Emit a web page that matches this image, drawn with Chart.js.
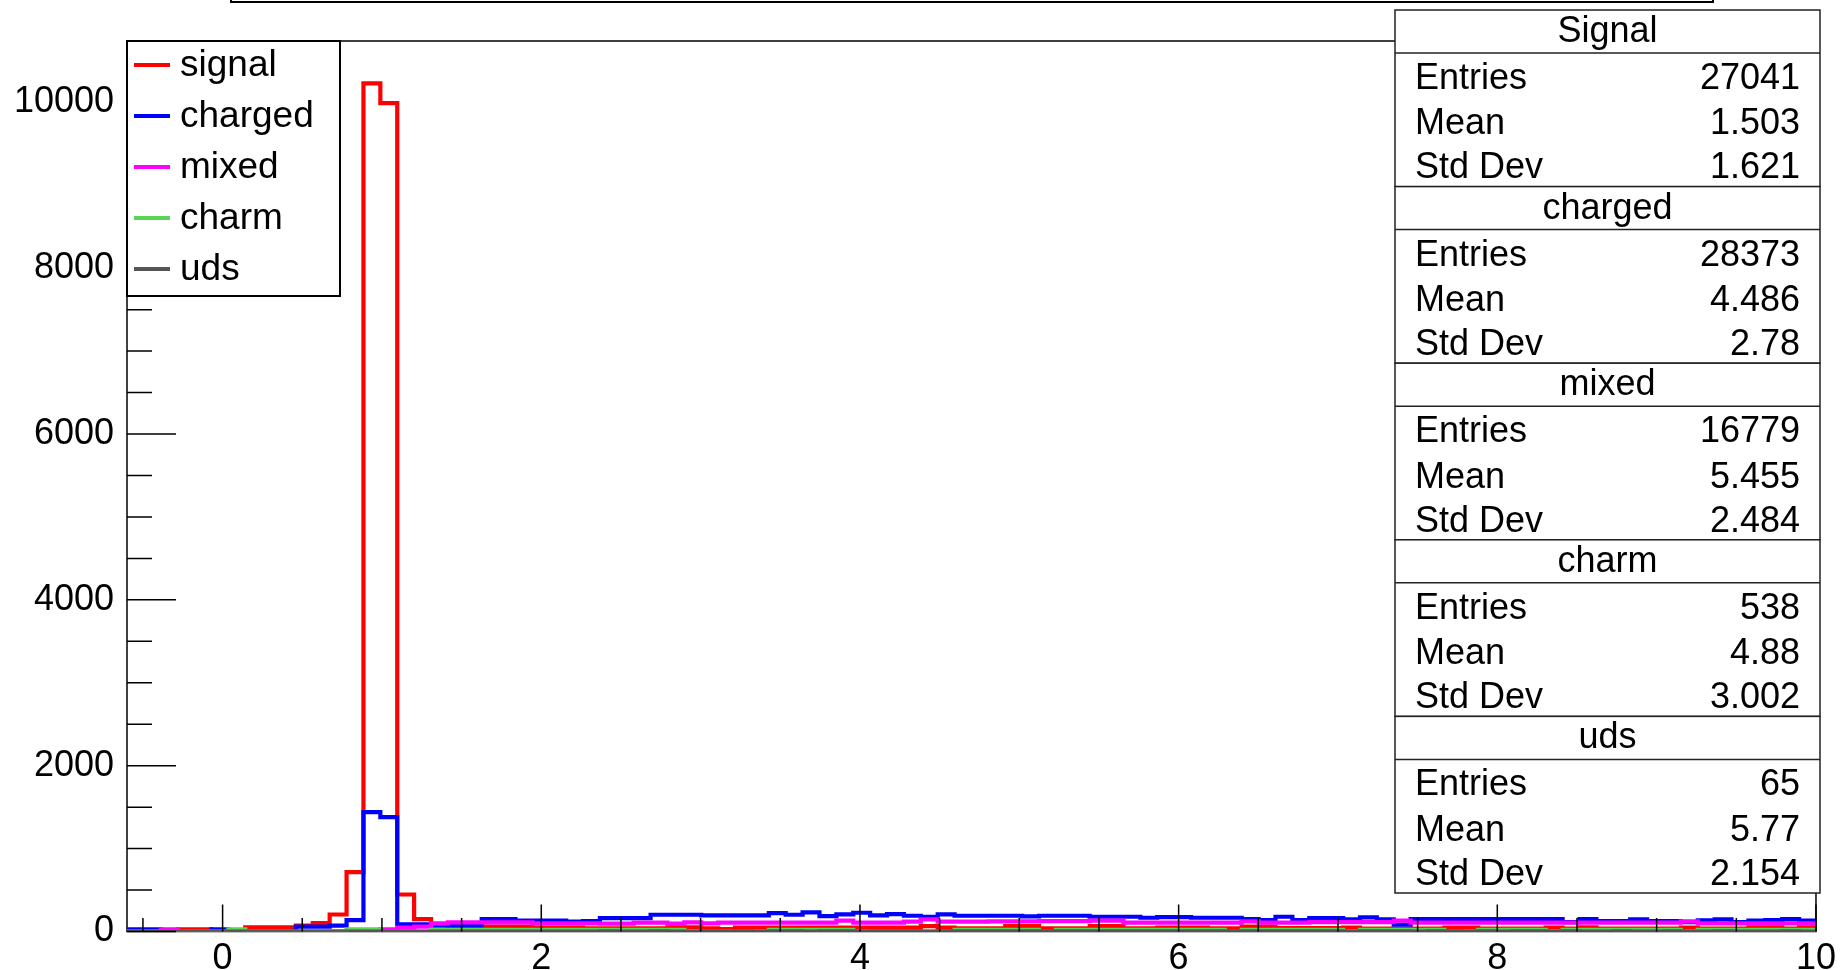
<!DOCTYPE html>
<html><head><meta charset="utf-8">
<script src="https://cdn.jsdelivr.net/npm/chart.js@4.4.1/dist/chart.umd.min.js"></script>
<style>html,body{margin:0;padding:0;background:#fff;overflow:hidden}canvas{display:block}</style>
</head><body>
<canvas id="c" width="1842" height="970" style="width:1842px;height:970px"></canvas>
<script>
const FONT = "'Liberation Sans', Arial, Helvetica, sans-serif";

// ---- histogram binning / axis ranges ----
const xMin = -0.6, xMax = 10, nBins = 100;
const yMin = 0, yMax = 10740;
const xTickStep = 2, xMinorStep = 0.5;
const yTickStep = 2000, yMinorStep = 500;

// ---- series ----
const seriesNames  = ['signal', 'charged', 'mixed', 'charm', 'uds'];
const seriesColors = ['#ff0000', '#0000ff', '#ff00ff', '#59d454', '#555555'];

const signal = [
  0, 0, 0, 25, 25, 0, 0, 50, 50, 50,
  72, 100, 205, 715, 10230, 9990, 446, 150, 30, 58,
  58, 58, 58, 58, 46, 46, 46, 38, 38, 38,
  38, 38, 50, 50, 38, 30, 46, 46, 46, 46,
  46, 46, 46, 46, 46, 46, 46, 66, 46, 38,
  38, 38, 66, 66, 38, 38, 38, 66, 66, 38,
  38, 46, 46, 46, 38, 38, 58, 58, 42, 42,
  42, 42, 46, 34, 34, 34, 34, 34, 46, 46,
  34, 34, 34, 34, 46, 34, 50, 34, 34, 34,
  34, 34, 46, 34, 34, 34, 50, 50, 34, 50
];
const charged = [
  25, 25, 0, 0, 0, 25, 0, 0, 0, 0,
  58, 58, 70, 138, 1440, 1380, 86, 86, 80, 74,
  74, 150, 150, 130, 130, 130, 118, 126, 162, 162,
  162, 202, 202, 202, 194, 194, 194, 194, 222, 202,
  230, 186, 206, 226, 194, 210, 190, 178, 206, 190,
  190, 190, 190, 182, 190, 190, 190, 178, 178, 178,
  166, 174, 174, 166, 166, 166, 150, 138, 178, 138,
  162, 162, 146, 170, 146, 82, 150, 150, 150, 150,
  150, 150, 150, 150, 150, 114, 150, 126, 126, 146,
  126, 126, 114, 134, 146, 114, 130, 138, 150, 130
];
const mixed = [
  0, 0, 25, 0, 0, 0, 0, 0, 0, 0,
  0, 0, 0, 0, 0, 25, 46, 58, 98, 110,
  110, 110, 110, 110, 98, 98, 98, 98, 94, 94,
  106, 106, 94, 110, 98, 106, 106, 106, 106, 106,
  106, 106, 130, 106, 106, 106, 118, 146, 118, 118,
  118, 122, 122, 122, 126, 126, 126, 130, 130, 106,
  106, 106, 106, 106, 106, 106, 122, 106, 106, 106,
  114, 114, 114, 114, 114, 130, 106, 106, 106, 106,
  106, 106, 106, 106, 106, 106, 106, 106, 106, 106,
  106, 106, 122, 98, 98, 98, 98, 98, 98, 98
];
const charm = [
  0, 0, 0, 0, 0, 0, 25, 0, 0, 0,
  0, 0, 0, 25, 25, 0, 0, 0, 20, 20,
  20, 20, 20, 20, 20, 20, 20, 20, 20, 20,
  20, 20, 20, 0, 0, 0, 0, 0, 20, 20,
  20, 20, 20, 0, 0, 0, 0, 0, 0, 20,
  20, 20, 20, 20, 0, 20, 20, 20, 20, 20,
  20, 20, 20, 20, 20, 0, 20, 20, 20, 20,
  20, 20, 0, 20, 20, 20, 20, 20, 0, 0,
  20, 20, 20, 20, 0, 20, 20, 20, 20, 20,
  20, 20, 0, 20, 20, 20, 20, 20, 20, 20
];
const uds = [
  0, 0, 0, 0, 0, 0, 0, 0, 0, 0,
  0, 0, 0, 0, 0, 0, 0, 0, 0, 0,
  0, 0, 0, 0, 0, 0, 0, 0, 1, 0,
  0, 1, 0, 0, 1, 0, 1, 0, 1, 1,
  0, 1, 1, 0, 1, 2, 1, 0, 1, 1,
  2, 1, 1, 2, 1, 1, 2, 1, 1, 1,
  2, 1, 1, 1, 2, 1, 1, 1, 1, 2,
  1, 1, 0, 1, 1, 1, 0, 1, 1, 0,
  1, 0, 1, 1, 0, 1, 0, 0, 1, 0,
  0, 1, 0, 0, 1, 0, 0, 0, 1, 0
];
const seriesValues = [signal, charged, mixed, charm, uds];

// ---- statistics boxes ----
const statTitles  = ['Signal', 'charged', 'mixed', 'charm', 'uds'];
const statEntries = ['27041', '28373', '16779', '538', '65'];
const statMeans   = ['1.503', '4.486', '5.455', '4.88', '5.77'];
const statStdDevs = ['1.621', '2.78', '2.484', '3.002', '2.154'];
const statRowLabels = ['Entries', 'Mean', 'Std Dev'];

// ---- build step-histogram points from the bins ----
const binWidth = (xMax - xMin) / nBins;
function histPoints(vals) {
  const pts = vals.map((v, k) => ({ x: xMin + k * binWidth, y: v }));
  pts.push({ x: xMax, y: vals[vals.length - 1] });
  return pts;
}

const LW = 4.2;
const datasets = seriesNames.map((name, i) => ({
  label: name,
  data: histPoints(seriesValues[i]),
  borderColor: seriesColors[i],
  backgroundColor: seriesColors[i],
  borderWidth: LW,
  pointRadius: 0,
  stepped: true,
  fill: false,
  order: seriesNames.length - i,
  borderCapStyle: 'butt',
  borderJoinStyle: 'miter'
}));

function stepTicks(lo, hi, step) {
  const out = [];
  for (let n = Math.ceil(lo / step); n * step <= hi + 1e-9; n++) out.push({ value: n * step });
  return out;
}

// ---- ROOT-like decorations (frame, ticks, legend, stats panes) ----
const rootPlugin = {
  id: 'rootDecor',
  beforeDatasetsDraw(chart) {
    const { ctx, chartArea: a } = chart;
    ctx.save();
    ctx.strokeStyle = '#000';
    ctx.lineWidth = 1.5;
    ctx.strokeRect(a.left, a.top, a.right - a.left, a.bottom - a.top);
    ctx.restore();
  },
  afterDatasetsDraw(chart) {
    const { ctx, chartArea: a, scales } = chart;
    const xs = scales.x, ys = scales.y;
    ctx.save();
    ctx.strokeStyle = '#000';
    ctx.lineWidth = 1.5;
    ctx.beginPath();
    stepTicks(xMin, xMax, xMinorStep).forEach(t => {
      const v = t.value;
      const px = xs.getPixelForValue(v);
      const major = Math.abs(v / xTickStep - Math.round(v / xTickStep)) < 1e-6;
      const len = major ? 27 : 13.5;
      ctx.moveTo(px, a.bottom);
      ctx.lineTo(px, a.bottom - len);
    });
    stepTicks(yMin, yMax, yMinorStep).forEach(t => {
      const v = t.value;
      const py = ys.getPixelForValue(v);
      const major = Math.abs(v / yTickStep - Math.round(v / yTickStep)) < 1e-6;
      const len = major ? 49 : 25;
      ctx.moveTo(a.left, py);
      ctx.lineTo(a.left + len, py);
    });
    ctx.stroke();
    ctx.restore();
  },
  afterDraw(chart) {
    const { ctx, chartArea: a } = chart;
    ctx.save();

    // title pave (mostly above the canvas)
    ctx.strokeStyle = '#000';
    ctx.lineWidth = 2;
    ctx.strokeRect(231, -20, 1482, 22);

    // legend
    const L = { left: a.left, top: a.top, right: 340, bottom: 296, x0: 134, x1: 170, tx: 180, y0: 65, dy: 51 };
    ctx.fillStyle = '#fff';
    ctx.fillRect(L.left, L.top, L.right - L.left, L.bottom - L.top);
    ctx.strokeStyle = '#000';
    ctx.lineWidth = 2;
    ctx.strokeRect(L.left, L.top, L.right - L.left, L.bottom - L.top);
    ctx.font = '37px ' + FONT;
    ctx.textBaseline = 'middle';
    ctx.textAlign = 'left';
    chart.data.datasets.forEach((ds, i) => {
      const yy = L.y0 + i * L.dy;
      ctx.strokeStyle = ds.borderColor;
      ctx.lineWidth = LW;
      ctx.beginPath();
      ctx.moveTo(L.x0, yy);
      ctx.lineTo(L.x1, yy);
      ctx.stroke();
      ctx.fillStyle = '#000';
      ctx.fillText(ds.label, L.tx, yy + 1);
    });

    // statistics panes
    const S = { left: 1395, right: 1820, top: 10, blockH: 176.6, headH: 43, rows: [69, 114.5, 158.5], lx: 1415, vx: 1800 };
    const values = [statEntries, statMeans, statStdDevs];
    ctx.font = '36px ' + FONT;
    statTitles.forEach((t, i) => {
      const top = S.top + i * S.blockH;
      ctx.fillStyle = '#fff';
      ctx.fillRect(S.left, top, S.right - S.left, S.blockH);
      ctx.strokeStyle = '#222';
      ctx.lineWidth = 1.5;
      ctx.strokeRect(S.left, top, S.right - S.left, S.blockH);
      ctx.beginPath();
      ctx.moveTo(S.left, top + S.headH);
      ctx.lineTo(S.right, top + S.headH);
      ctx.stroke();
      ctx.fillStyle = '#000';
      ctx.textAlign = 'center';
      ctx.fillText(t, (S.left + S.right) / 2, top + 22);
      statRowLabels.forEach((lab, r) => {
        ctx.textAlign = 'left';
        ctx.fillText(lab, S.lx, top + S.rows[r]);
        ctx.textAlign = 'right';
        ctx.fillText(values[r][i], S.vx, top + S.rows[r]);
      });
    });
    ctx.restore();
  }
};

new Chart(document.getElementById('c'), {
  type: 'line',
  data: { datasets },
  plugins: [rootPlugin],
  options: {
    responsive: false,
    animation: false,
    devicePixelRatio: 1,
    layout: { padding: { top: 41, right: 24, left: 0, bottom: 0 } },
    plugins: { legend: { display: false }, tooltip: { enabled: false }, title: { display: false } },
    elements: { line: { tension: 0 } },
    scales: {
      x: {
        type: 'linear',
        min: xMin, max: xMax,
        grid: { display: false, drawTicks: false },
        border: { display: false },
        afterBuildTicks(s) { s.ticks = stepTicks(xMin, xMax, xTickStep); },
        ticks: { color: '#000', padding: 6, maxRotation: 0, autoSkip: false,
                 font: { family: FONT, size: 36 }, callback: v => String(v) },
        afterFit(s) { s.height = 38.5; }
      },
      y: {
        type: 'linear',
        min: yMin, max: yMax,
        grid: { display: false, drawTicks: false },
        border: { display: false },
        afterBuildTicks(s) { s.ticks = stepTicks(yMin, yMax, yTickStep); },
        ticks: { color: '#000', padding: 13, autoSkip: false,
                 font: { family: FONT, size: 36 }, callback: v => String(v) },
        afterFit(s) { s.width = 127; }
      }
    }
  }
});
</script>
</body></html>
